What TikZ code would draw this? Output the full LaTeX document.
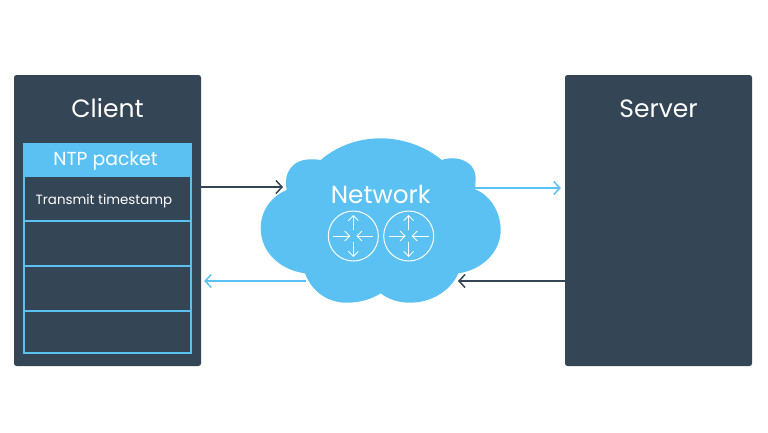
\documentclass[tikz,border=0pt]{standalone}
\usepackage{fontspec}
\setmainfont{Poppins}
\usetikzlibrary{arrows.meta}
\definecolor{slate}{HTML}{344556}
\definecolor{skyblue}{HTML}{5BC1F3}
\tikzset{
  host/.style={fill=slate,rounded corners=2.5pt,minimum width=187pt,minimum height=291pt,inner sep=0pt},
  title/.style={text=white,font=\fontsize{25}{28}\selectfont},
  field/.style={draw=skyblue,line width=1.1pt,minimum width=167pt,inner sep=0pt},
  router/.style={circle,draw=white,line width=1pt,minimum size=50pt,inner sep=0pt},
  link/.style={line width=1.5pt,-{Straight Barb[length=6pt,width=13pt,line width=1.5pt]}},
  inner/.style={draw=white,line width=0.9pt,-{Straight Barb[length=5pt,width=10pt,line width=0.9pt]}}
}
\begin{document}
\begin{tikzpicture}[x=1pt,y=-1pt]
\useasboundingbox (0,0) rectangle (768,432);
\node[host] (client) at (107.5,220.5) {};
\node[host] (server) at (658.5,220.5) {};
\node[title] at (107.5,108) {Client};
\node[title] at (658.5,108.5) {Server};
% packet
\node[field,minimum height=45pt] (row1) at (107.5,198.5) {};
\node[field,minimum height=45pt] (row2) at (107.5,243.5) {};
\node[field,minimum height=45pt] (row3) at (107.5,288.5) {};
\node[field,minimum height=42pt] (row4) at (107.5,332) {};
\node[fill=skyblue,minimum width=168.1pt,minimum height=34pt,inner sep=0pt] (header) at (107.5,159.5) {};
\node[text=white,font=\fontsize{18.8}{21}\selectfont] (packet) at (105.5,160.5) {NTP packet};
\node[text=white,font=\fontsize{13.4}{16}\selectfont] (stamp) at (104,201) {Transmit timestamp};
% cloud
\fill[skyblue] (320.7,160) .. controls (338,145) and (360,138.3) .. (380.7,138.3)
  .. controls (402,138.3) and (425,146) .. (441.7,160)
  .. controls (455,155) and (478,160) .. (475.5,182) .. controls (475.5,185) and (475.5,187) .. (475,189.3)
  .. controls (490,195) and (500.7,212) .. (500.7,230)
  .. controls (500.7,252) and (482,270) .. (458.3,273.3)
  .. controls (450,292) and (430,302.7) .. (410,302.7)
  .. controls (398,302.7) and (388,299) .. (380.7,293.3)
  .. controls (372,299) and (360,302.7) .. (346.7,302.7)
  .. controls (328,302.7) and (312,292) .. (305,273.3)
  .. controls (280,270) and (260.7,252) .. (260.7,228.3)
  .. controls (260.7,210) and (272,196) .. (286.7,190)
  .. controls (283,172) and (293,159) .. (311.7,159.3) .. controls (315,159.3) and (318,159.5) .. (320.7,160) -- cycle;
\node[text=white,font=\fontsize{24.7}{28}\selectfont] (network) at (380.7,194) {Network};
\node[router] (routerA) at (353.3,236) {};
\node[router] (routerB) at (408.7,236) {};
\foreach \r in {routerA,routerB}{
  \draw[inner] ([yshift=6pt]\r.center) -- ([yshift=21pt]\r.center);
  \draw[inner] ([yshift=-6pt]\r.center) -- ([yshift=-21pt]\r.center);
  \draw[inner] ([xshift=-20pt]\r.center) -- ([xshift=-3pt]\r.center);
  \draw[inner] ([xshift=20pt]\r.center) -- ([xshift=3pt]\r.center);
}
% connectors
\coordinate (inL) at (283,187);
\coordinate (outL) at (306,281);
\coordinate (outR) at (475,188);
\coordinate (inR) at (458,281);
\draw[link,draw=slate] (client.east |- inL) -- (inL);
\draw[link,draw=skyblue] (outR) -- ([xshift=-4pt]server.west |- outR);
\draw[link,draw=slate] (server.west |- inR) -- (inR);
\draw[link,draw=skyblue] (outL) -- ([xshift=3pt]client.east |- outL);
\end{tikzpicture}
\end{document}
